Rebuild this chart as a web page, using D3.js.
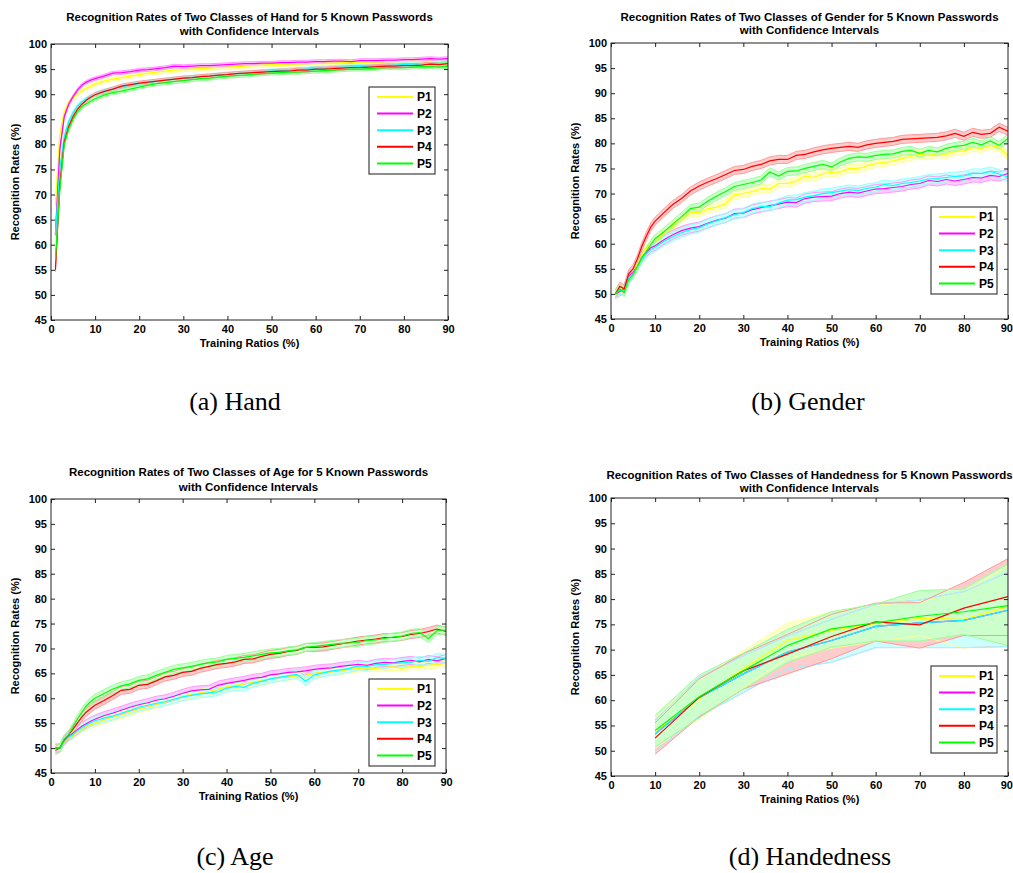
<!DOCTYPE html>
<html>
<head>
<meta charset="utf-8">
<script src="https://cdn.jsdelivr.net/npm/d3@7"></script>
<style>
  body { margin: 0; background: #fff; }
  svg { display: block; }
  text { font-family: "Liberation Sans", Arial, sans-serif; }
</style>
</head>
<body>
<svg id="fig" width="1013" height="873"></svg>
<script>
const seriesNames = ["P1", "P2", "P3", "P4", "P5"];
const seriesColors = ["#ffff00", "#ff00ff", "#00ffff", "#ff0000", "#00ff00"];
const xTicks = [0, 10, 20, 30, 40, 50, 60, 70, 80, 90];
const yTicks = [45, 50, 55, 60, 65, 70, 75, 80, 85, 90, 95, 100];

// training ratios (%) used by panels a-c
const ratiosFine = [1,2,3,4,5,6,7,8,9,10,12,14,16,18,20,22,24,26,28,30,32,34,36,38,40,42,44,46,48,50,52,54,56,58,60,62,64,66,68,70,72,74,76,78,80,82,84,86,88,90];

// (a) Hand
const handP1 = [68,82,86.5,88.3,89.3,90,90.7,91.2,91.6,92, 92.6,93,93.3,93.6,93.9,94.2,94.4,94.6,94.8,94.9, 95,95.1,95.2,95.3,95.4,95.5,95.6,95.7,95.8,95.9, 95.9,96,96,96.1,96.1,96.2,96.2,96.3,96.3,96.3, 96.4,96.4,96.5,96.5,96.5,96.6,96.5,96.6,96.4,96.3];
const handP2 = [62,79,85.5,88,89.5,90.8,91.8,92.4,92.8,93.1, 93.6,94.2,94.3,94.5,94.8,94.9,95.1,95.3,95.6,95.5, 95.6,95.7,95.7,95.8,95.9,96,96.1,96.1,96.2,96.2, 96.3,96.3,96.4,96.4,96.5,96.5,96.6,96.6,96.5,96.7, 96.7,96.7,96.8,96.8,96.9,96.9,97,97.1,97,97.1];
const handP3 = [62,75,81.5,84.5,86.3,87.6,88.5,89,89.5,89.9, 90.6,91,91.5,91.8,92.1,92.3,92.6,92.8,93,93.2, 93.3,93.5,93.7,93.8,94,94.1,94.2,94.4,94.5,94.6, 94.7,94.8,94.9,95,95.1,95.2,95.3,95.4,95.4,95.5, 95.6,95.6,95.7,95.8,95.9,96,96,96.1,96.2,96.2];
const handP4 = [55,72,80.5,83.5,85.5,87,88,88.8,89.4,89.9, 90.5,91,91.6,91.9,92.2,92.4,92.6,92.8,93,93.2, 93.3,93.5,93.6,93.8,93.9,94.1,94.2,94.3,94.4,94.5, 94.6,94.6,94.8,94.8,95,95,95.1,95.2,95.3,95.3, 95.4,95.5,95.6,95.6,95.7,95.7,95.8,96,95.9,96.1];
const handP5 = [57,71,80,83,85,86.5,87.5,88.1,88.6,89.1, 89.8,90.3,90.6,91,91.4,91.8,92.1,92.3,92.5,92.7, 92.9,93.1,93.2,93.4,93.6,93.7,93.8,94,94.1,94.2, 94.3,94.4,94.4,94.5,94.6,94.7,94.8,94.9,95,95, 95.1,95.2,95.3,95.3,95.3,95.4,95.5,95.5,95.4,95.6];
const handHalfCI = [0.4, 0.35, 0.4, 0.4, 0.4];

// (b) Gender
const genderP1 = [50,51.5,50.8,53.5,54.5,56,57.8,59,60,60.5, 62,63.5,65,66.2,66.2,67,67.3,68,69.8,70, 70.4,71,70.9,72,72,72.5,73.5,73.2,74,74.2, 74.3,75,75,75.5,76,76.2,76.5,77,77.4,77.8, 77.6,78,77.8,78.4,78.5,79.2,79,79.6,79.2,77.5];
const genderP2 = [50,50.5,51,53.5,54.3,55.5,57.3,58.3,59.2,59.6, 60.8,61.8,62.6,63.1,63.4,64.1,64.7,65.1,66,66.1, 66.8,67.2,67.6,67.9,68.3,68.2,69,69.3,69.4,69.5, 70,70.3,70.1,70.5,70.9,71,71.2,71.4,71.8,72, 72.6,72.4,72.8,72.5,72.8,73.2,73.1,73.6,73.4,74];
const genderP3 = [50,50.8,50.7,53.3,54,55.4,57,58,58.8,59.3, 60.5,61.4,62.2,62.8,63.2,64,64.6,65.2,65.8,66.2, 67,67.4,67.4,68.1,68.7,68.8,69.3,69.6,70,70.2, 70.5,70.8,70.6,71,71.3,71.8,71.6,72,72.2,72.5, 72.9,73,73.2,73.4,73.5,74,74,74.4,73.9,73.3];
const genderP4 = [50,51.5,51,54,55,57,59.5,61.5,63.3,64.5, 66.2,67.8,69,70.5,71.5,72.3,73,73.8,74.6,74.8, 75.4,75.8,76.5,76.8,76.8,77.6,77.8,78.3,78.7,79, 79.2,79.4,79.2,79.7,80,80.2,80.4,80.8,80.9,81, 81.1,81.2,81.5,82,81.4,82.2,81.8,82,83.2,82.4];
const genderP5 = [50,51,50.3,52.8,53.8,55.5,57.2,58.5,59.8,61, 62.4,63.9,65.4,67,67.3,68.5,69.5,70.4,71.4,71.8, 72.2,72.7,74.3,73.5,74.4,74.5,75,75.4,75.8,75.3, 76.3,77,77.3,77.2,77.6,77.8,77.9,78.4,78.6,78, 78.6,78.3,79,79.4,79.6,80.2,79.7,80.5,79.6,81];
const genderHalfCI = [0.8, 0.9, 0.9, 0.8, 0.8];

// (c) Age
const ageP1 = [49.5,50,51.2,52,52.5,53.2,53.8,54.3,54.7,55, 55.6,56.2,56.6,57.2,57.8,58.2,58.7,59.2,59.7,60.4, 60.8,61.1,61.4,61.8,62.3,62.6,62.9,63.2,63.6,63.8, 64.2,64.3,64.5,64.6,65,65.2,65.3,65.5,65.8,66, 66.1,66,66.2,66.3,66,66.5,66.4,66.6,66.8,67];
const ageP2 = [49.5,50,51.5,52.3,53,53.7,54.4,54.9,55.4,55.8, 56.5,57,57.6,58.2,58.7,59.1,59.6,59.9,60.4,61, 61.5,61.7,61.8,62.6,63,63.3,63.6,64,64.2,64.7, 64.9,65.2,65.3,65.5,65.8,66,66.1,66.4,66.6,66.8, 66.6,67,67.2,67.1,67.4,67.6,67.3,67.8,67.5,68];
const ageP3 = [50,50,51.3,52.2,52.7,53.5,54.1,54.6,55.1,55.5, 56,56.4,57,57.6,58.2,58.6,59,59.3,59.8,60.3, 60.6,60.9,61.1,61.3,62,62.4,62.2,63,63.4,63.9, 64.2,64.5,64.8,63.4,64.7,65.1,65.5,65.7,66,66.5, 66.4,66.7,66.8,67,67.1,67.2,67.6,67.4,68.2,68];
const ageP4 = [50,50,51.7,52.6,53.8,55,56.2,57.2,57.9,58.6, 59.5,60.5,61.6,61.8,62.6,62.8,63.5,64.3,64.6,65.2, 65.4,66,66.4,66.8,67,67.3,67.8,67.9,68.4,68.8, 69,69.4,69.6,70.2,70.2,70.3,70.6,70.9,71.2,71.5, 71.7,71.9,72.2,72.2,72.4,72.8,73,73.4,73.9,73.4];
const ageP5 = [50,50,51.8,52.7,54.2,55.8,57.2,58.4,59.3,60, 60.9,61.8,62.5,62.9,63.6,63.9,64.6,65.2,65.8,66.1, 66.4,66.8,67.1,67.3,67.8,68,68.2,68.5,68.8,69.1, 69.2,69.5,69.7,70.2,70.4,70.6,70.8,71,71.1,71.2, 71.6,71.7,72,72.3,72.5,73,73.2,72,73.6,73.7];
const ageHalfCI = [0.7, 0.8, 0.8, 0.8, 0.8];

// (d) Handedness, coarse ratios with explicit bounds
const ratiosCoarse = [10, 20, 30, 40, 50, 60, 70, 80, 90];
const handedP1 = [53.8, 60.2, 66.2, 71.8, 73.8, 75.2, 76.2, 76, 78.5];
const handedP1Low = [50.5, 56.3, 62.5, 68.3, 70.3, 71.6, 72.8, 70.3, 70.8];
const handedP1High = [56.5, 64, 69.8, 75.2, 77.5, 78.8, 79.5, 81.5, 86.5];
const handedP2 = [53.3, 60.5, 65.2, 69.5, 71.8, 74.6, 75.3, 75.8, 77.8];
const handedP2Low = [50, 56.8, 61.5, 66.2, 67.5, 70.4, 70.4, 70.4, 70.6];
const handedP2High = [56, 64.5, 68.8, 72.7, 76, 79, 79.8, 81.5, 85.3];
const handedP3 = [53.3, 60.5, 65.2, 69.5, 71.8, 74.6, 75.3, 75.8, 77.8];
const handedP3Low = [50, 56.8, 61.5, 66.2, 67.5, 70.4, 70.4, 70.4, 70.6];
const handedP3High = [56, 64.5, 68.8, 72.7, 76, 79, 79.8, 81.5, 85.3];
const handedP4 = [52.5, 60.6, 65.8, 69.1, 72.6, 75.5, 74.9, 78.2, 80.5];
const handedP4Low = [49.3, 56.7, 62.2, 65.2, 68.2, 71.7, 70.3, 72.8, 72.8];
const handedP4High = [55.5, 64.2, 69.2, 73, 77, 79.2, 79.3, 83.3, 88];
const handedP5 = [54, 60.7, 65.8, 70.8, 74.1, 75.3, 76.6, 77.5, 78.7];
const handedP5Low = [50.8, 56.5, 62.2, 67.5, 70.5, 71.7, 71.7, 73, 70.8];
const handedP5High = [57, 65, 69.3, 74, 77.5, 79, 81.7, 82, 87];

function withCI(xs, means, halves) {
  return means.map((m, i) => ({ x: xs, y: m, lo: m.map(v => v - halves[i]), hi: m.map(v => v + halves[i]) }));
}

const panels = [
  {
    title: ["Recognition Rates of Two Classes of Hand for 5 Known Passwords", "with Confidence Intervals"],
    caption: "(a) Hand",
    series: withCI(ratiosFine, [handP1, handP2, handP3, handP4, handP5], handHalfCI),
    left: 51, right: 448, top: 44, bottom: 320, titleBase: [21, 35],
    legend: [369, 87], captionPos: [235, 410]
  },
  {
    title: ["Recognition Rates of Two Classes of Gender for 5 Known Passwords", "with Confidence Intervals"],
    caption: "(b) Gender",
    series: withCI(ratiosFine, [genderP1, genderP2, genderP3, genderP4, genderP5], genderHalfCI),
    left: 611, right: 1008, top: 43, bottom: 319, titleBase: [21, 34],
    legend: [931, 207], captionPos: [808, 410]
  },
  {
    title: ["Recognition Rates of Two Classes of Age for 5 Known Passwords", "with Confidence Intervals"],
    caption: "(c) Age",
    series: withCI(ratiosFine, [ageP1, ageP2, ageP3, ageP4, ageP5], ageHalfCI),
    left: 51, right: 446, top: 499, bottom: 773, titleBase: [476, 491],
    legend: [369, 679], captionPos: [235, 865]
  },
  {
    title: ["Recognition Rates of Two Classes of Handedness for 5 Known Passwords", "with Confidence Intervals"],
    caption: "(d) Handedness",
    series: [
      { x: ratiosCoarse, y: handedP1, lo: handedP1Low, hi: handedP1High },
      { x: ratiosCoarse, y: handedP2, lo: handedP2Low, hi: handedP2High },
      { x: ratiosCoarse, y: handedP3, lo: handedP3Low, hi: handedP3High },
      { x: ratiosCoarse, y: handedP4, lo: handedP4Low, hi: handedP4High },
      { x: ratiosCoarse, y: handedP5, lo: handedP5Low, hi: handedP5High }
    ],
    left: 611, right: 1008, top: 498, bottom: 776, titleBase: [479, 492],
    legend: [931, 666], captionPos: [810, 865]
  }
];

const svg = d3.select("#fig");
const W = +svg.attr("width");

function drawPanel(p) {
  const g = svg.append("g");
  const x = d3.scaleLinear().domain([0, 90]).range([p.left, p.right]);
  const y = d3.scaleLinear().domain([45, 100]).range([p.bottom, p.top]);
  const band = d3.area().x(d => x(d.x)).y0(d => y(d.lo)).y1(d => y(d.hi));
  const bandPts = s => s.x.map((v, k) => ({ x: v, lo: s.lo[k], hi: s.hi[k] }));

  // pale opaque band fills (later series cover earlier ones)
  p.series.forEach((s, i) => {
    g.append("path")
      .datum(bandPts(s))
      .attr("d", band)
      .attr("fill", d3.interpolateRgb("#fff", seriesColors[i])(0.2))
      .attr("stroke", "none");
  });
  // band edges stay visible through the other fills
  p.series.forEach((s, i) => {
    const edge = s.x.map((v, k) => ({ x: v, lo: s.lo[k], hi: s.hi[k] }));
    ["lo", "hi"].forEach(key => {
      g.append("path")
        .datum(edge)
        .attr("d", d3.line().x(d => x(d.x)).y(d => y(d[key])))
        .attr("fill", "none")
        .attr("stroke", d3.interpolateRgb("#fff", seriesColors[i])(0.4))
        .attr("stroke-width", 1);
    });
  });
  p.series.forEach((s, i) => {
    const pts = s.x.map((v, k) => ({ x: v, y: s.y[k] }));
    g.append("path")
      .datum(pts)
      .attr("d", d3.line().x(d => x(d.x)).y(d => y(d.y)))
      .attr("fill", "none")
      .attr("stroke", seriesColors[i])
      .attr("stroke-width", 1.2);
  });

  // axes with inward ticks on all four sides
  const styleAxis = sel => {
    sel.select(".domain").remove();
    sel.selectAll(".tick line").attr("stroke", "#222");
    sel.selectAll("text")
      .attr("fill", "#000")
      .style("font-family", "'Liberation Sans', Arial, sans-serif")
      .style("font-size", "11px")
      .style("font-weight", "bold");
  };
  const bottomAxis = g.append("g").attr("transform", `translate(0,${p.bottom})`)
    .call(d3.axisBottom(x).tickValues(xTicks).tickSize(-4).tickPadding(5)).call(styleAxis);
  // keep the last label inside the page when the axis ends at the edge
  if (p.right + 7 > W) {
    bottomAxis.selectAll(".tick text").filter(d => d === 90)
      .attr("text-anchor", "end").attr("x", W - p.right - 0.5);
  }
  g.append("g").attr("transform", `translate(${p.left},0)`)
    .call(d3.axisLeft(y).tickValues(yTicks).tickSize(-4).tickPadding(4)).call(styleAxis);
  g.append("g").attr("transform", `translate(0,${p.top})`)
    .call(d3.axisTop(x).tickValues(xTicks).tickSize(-4).tickFormat("")).call(styleAxis);
  g.append("g").attr("transform", `translate(${p.right},0)`)
    .call(d3.axisRight(y).tickValues(yTicks).tickSize(-4).tickFormat("")).call(styleAxis);

  g.append("rect")
    .attr("x", p.left).attr("y", p.top)
    .attr("width", p.right - p.left).attr("height", p.bottom - p.top)
    .attr("fill", "none").attr("stroke", "#222").attr("stroke-width", 1);

  const cx = (p.left + p.right) / 2;
  p.title.forEach((t, i) => {
    g.append("text").attr("x", cx).attr("y", p.titleBase[i])
      .attr("text-anchor", "middle")
      .style("font-size", "11.5px").style("font-weight", "bold")
      .text(t);
  });
  g.append("text").attr("x", cx).attr("y", p.bottom + 27)
    .attr("text-anchor", "middle")
    .style("font-size", "11px").style("font-weight", "bold")
    .text("Training Ratios (%)");
  g.append("text")
    .attr("transform", `translate(${p.left - 36},${(p.top + p.bottom) / 2}) rotate(-90)`)
    .attr("text-anchor", "middle").attr("dy", "0.35em")
    .style("font-size", "11px").style("font-weight", "bold")
    .text("Recognition Rates (%)");

  // legend
  const [lx, ly] = p.legend;
  const lg = g.append("g").attr("transform", `translate(${lx},${ly})`);
  lg.append("rect").attr("width", 66).attr("height", 87)
    .attr("fill", "#fff").attr("stroke", "#404040").attr("stroke-width", 1.2);
  seriesNames.forEach((name, i) => {
    const ry = 10 + i * 16.6;
    lg.append("line").attr("x1", 8).attr("x2", 44).attr("y1", ry).attr("y2", ry)
      .attr("stroke", seriesColors[i]).attr("stroke-width", 2);
    lg.append("text").attr("x", 48).attr("y", ry).attr("dy", "0.36em")
      .style("font-size", "12px").style("font-weight", "bold")
      .text(name);
  });

  svg.append("text")
    .attr("x", p.captionPos[0]).attr("y", p.captionPos[1])
    .attr("text-anchor", "middle")
    .style("font-family", "'Liberation Serif', 'DejaVu Serif', serif")
    .style("font-size", "26px")
    .text(p.caption);
}

panels.forEach(drawPanel);
</script>
</body>
</html>
